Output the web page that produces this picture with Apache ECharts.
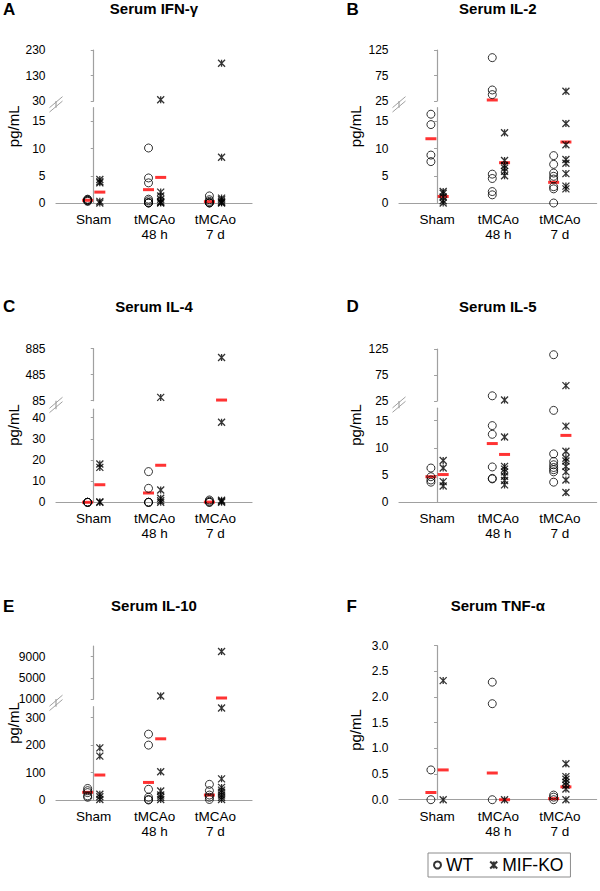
<!DOCTYPE html>
<html><head><meta charset="utf-8">
<script src="https://cdn.jsdelivr.net/npm/echarts@6/dist/echarts.min.js"></script>
<style>html,body{margin:0;padding:0;background:#fff}#c{width:600px;height:891px}</style>
</head><body><div id="c"></div>
<script>
// ---------- DATA ----------
const categories = ['Sham', 'tMCAo\n48 h', 'tMCAo\n7 d'];
const groupNames = ['WT', 'MIF-KO'];

// A: Serum IFN-γ
const ifnWT = [[0.7, 0.6, 0.5, 0.4, 0.3], [10.1, 4.6, 3.7, 0.7, 0.4, 0.1, 0, 0], [1.3, 0.6, 0.3, 0.1, 0, 0]];
const ifnKO = [[4.3, 3.9, 3.7, 0.3, 0], [35, 2.0, 1.3, 0.7, 0.3, 0.1, 0], [178, 8.4, 0.9, 0.6, 0.3, 0.1, 0]];
const ifnMeanWT = [0.5, 2.45, 0.25];
const ifnMeanKO = [2.0, 4.7, null];
const ifnTicksLow = [0, 5, 10, 15];
const ifnTicksHigh = [30, 130, 230];

// B: Serum IL-2
const il2WT = [[16.3, 14.4, 8.8, 7.6], [110, 46.6, 37.5, 5.3, 4.5, 2.1, 1.5], [8.7, 7.1, 5.5, 4.9, 4.4, 3.0, 2.6, 0]];
const il2KO = [[2.1, 1.8, 1.1, 0.4, 0], [12.9, 7.8, 6.9, 6.4, 5.8, 5.0], [44, 14.6, 10.7, 8.0, 7.3, 5.4, 3.1, 2.6]];
const il2MeanWT = [11.8, 27, 3.8];
const il2MeanKO = [1.2, 7.4, 11.2];
const il2TicksLow = [0, 5, 10, 15];
const il2TicksHigh = [25, 75, 125];

// C: Serum IL-4
const il4WT = [[0, 0, 0, 0], [14.5, 6.6, 0, 0, 0], [1.1, 0.5, 0, 0]];
const il4KO = [[18.1, 16.5, 0.2, 0], [136, 5.8, 1.9, 0.8, 0], [750, 37.8, 1.0, 0.5, 0]];
const il4MeanWT = [0, 4.4, 0.1];
const il4MeanKO = [8.3, 17.5, 95];
const il4TicksLow = [0, 10, 20, 30, 40];
const il4TicksHigh = [85, 485, 885];

// D: Serum IL-5
const il5WT = [[6.3, 4.7, 4.1, 3.7], [35, 14.1, 12.5, 6.5, 4.4, 4.3], [114, 16.9, 8.9, 7.5, 6.9, 6.4, 6.0, 5.6, 3.7]];
const il5KO = [[7.7, 6.3, 3.8, 3.0], [27, 12.0, 6.6, 6.1, 5.6, 4.8, 4.0, 3.2], [54.5, 14.0, 9.4, 8.1, 7.6, 6.6, 5.6, 4.1, 1.8]];
const il5MeanWT = [4.7, 10.8, null];
const il5MeanKO = [5.1, 8.8, 12.3];
const il5TicksLow = [0, 5, 10, 15];
const il5TicksHigh = [25, 75, 125];

// E: Serum IL-10
const il10WT = [[42, 34, 27, 15, 10], [240, 200, 39, 10, 2, 0], [57, 34, 18, 10, 2]];
const il10KO = [[190, 160, 21, 12, 2], [1580, 103, 33, 18, 10, 2], [9970, 335, 77, 46, 36, 28, 18, 10, 2]];
const il10MeanWT = [28, 64, 18];
const il10MeanKO = [91, 223, 1190];
const il10TicksLow = [0, 100, 200, 300];
const il10TicksHigh = [1000, 5000, 9000];

// F: Serum TNF-α
const tnfWT = [[0.58, 0], [2.29, 1.87, 0], [0.09, 0.05, 0]];
const tnfKO = [[2.32, 0], [0], [0.70, 0.45, 0.40, 0.34, 0.28, 0.21, 0]];
const tnfMeanWT = [0.14, 0.52, 0.02];
const tnfMeanKO = [0.58, 0, 0.25];
const tnfTicks = [0, 0.5, 1.0, 1.5, 2.0, 2.5, 3.0];

// ---------- LAYOUT ----------
const FONT = '"Liberation Sans", Arial, Helvetica, sans-serif';
const AXIS = '#a0a0a0';
const X_MIN = -0.62, X_MAX = 2.6, OFF = 0.1;
const cols = [{ left: 56, width: 196 }, { left: 399, width: 197.6 }];

const panels = [
  { letter: 'A', title: 'Serum IFN-γ', col: 0, wt: ifnWT, ko: ifnKO, mWT: ifnMeanWT, mKO: ifnMeanKO,
    low: { min: 0, max: 17.5, ticks: ifnTicksLow }, high: { min: 30, max: 230, ticks: ifnTicksHigh },
    highTop: 50, highBottom: 101, lowTop: 107.7, base: 203, titleY: 8.5, nameY: 126.3, dec: 0 },
  { letter: 'B', title: 'Serum IL-2', col: 1, wt: il2WT, ko: il2KO, mWT: il2MeanWT, mKO: il2MeanKO,
    low: { min: 0, max: 17.5, ticks: il2TicksLow }, high: { min: 25, max: 125, ticks: il2TicksHigh },
    highTop: 50, highBottom: 101, lowTop: 107.7, base: 203, titleY: 8.5, nameY: 126.3, dec: 0 },
  { letter: 'C', title: 'Serum IL-4', col: 0, wt: il4WT, ko: il4KO, mWT: il4MeanWT, mKO: il4MeanKO,
    low: { min: 0, max: 44, ticks: il4TicksLow }, high: { min: 85, max: 885, ticks: il4TicksHigh },
    highTop: 348.7, highBottom: 400.7, lowTop: 409.2, base: 502.3, titleY: 306, nameY: 425, dec: 0 },
  { letter: 'D', title: 'Serum IL-5', col: 1, wt: il5WT, ko: il5KO, mWT: il5MeanWT, mKO: il5MeanKO,
    low: { min: 0, max: 17.3, ticks: il5TicksLow }, high: { min: 25, max: 125, ticks: il5TicksHigh },
    highTop: 349, highBottom: 401, lowTop: 408.2, base: 502.3, titleY: 306, nameY: 425, dec: 0 },
  { letter: 'E', title: 'Serum IL-10', col: 0, wt: il10WT, ko: il10KO, mWT: il10MeanWT, mKO: il10MeanKO,
    low: { min: 0, max: 340, ticks: il10TicksLow }, high: { min: 1000, max: 11000, ticks: il10TicksHigh },
    highTop: 646, highBottom: 699, lowTop: 706.7, base: 800, titleY: 605.5, nameY: 723, dec: 0 },
  { letter: 'F', title: 'Serum TNF-α', col: 1, wt: tnfWT, ko: tnfKO, mWT: tnfMeanWT, mKO: tnfMeanKO,
    low: { min: 0, max: 3, ticks: tnfTicks }, high: null,
    lowTop: 645.7, base: 799.7, titleY: 605.5, nameY: 730, dec: 1 }
];

const KO_SYMBOL = 'path://M0,0L10,10M10,0L0,10M5,0L5,10';

const grids = [], xAxes = [], yAxes = [], series = [], graphics = [];

panels.forEach(p => {
  const col = cols[p.col];
  const segs = [{ kind: 'low', top: p.lowTop, bottom: p.base, scale: p.low }];
  if (p.high) segs.push({ kind: 'high', top: p.highTop, bottom: p.highBottom, scale: p.high });
  segs.forEach(s => {
    const gi = grids.length;
    grids.push({ left: col.left, width: col.width, top: s.top, height: s.bottom - s.top, containLabel: false });
    xAxes.push({
      gridIndex: gi, type: 'value', min: X_MIN, max: X_MAX, show: s.kind === 'low',
      axisLine: { show: true, lineStyle: { color: AXIS, width: 1.2 } },
      axisTick: { show: false }, splitLine: { show: false },
      axisLabel: { customValues: [0, 1, 2], formatter: v => categories[Math.round(v)],
        fontFamily: FONT, fontSize: 13.5, color: '#000', lineHeight: 15, margin: 9 }
    });
    yAxes.push({
      gridIndex: gi, type: 'value', min: s.scale.min, max: s.scale.max,
      axisLine: { show: true, lineStyle: { color: AXIS, width: 1.2 } },
      axisTick: { show: true, inside: false, length: 3, customValues: s.scale.ticks, lineStyle: { color: AXIS } },
      axisLabel: { customValues: s.scale.ticks, formatter: v => p.dec ? v.toFixed(p.dec) : String(v),
        fontFamily: FONT, fontSize: 12, color: '#000', margin: 10.5 },
      splitLine: { show: false }
    });
    const inSeg = v => s.kind === 'low' ? v <= p.low.max : v > p.low.max;
    const pts = (arr, off) => {
      const out = [];
      arr.forEach((vals, i) => vals.forEach(v => { if (v !== null && inSeg(v)) out.push([i + off, v]); }));
      return out;
    };
    const means = (arr, off) => {
      const out = [];
      arr.forEach((v, i) => { if (v !== null && inSeg(v)) out.push([i + off, v]); });
      return out;
    };
    series.push({ type: 'scatter', name: 'mean', xAxisIndex: gi, yAxisIndex: gi, z: 1, silent: true,
      symbol: 'rect', symbolSize: [11, 3], itemStyle: { color: '#ff0000' },
      data: means(p.mWT, -OFF).concat(means(p.mKO, OFF)) });
    series.push({ type: 'scatter', name: groupNames[0], xAxisIndex: gi, yAxisIndex: gi, z: 3, silent: true,
      symbol: 'circle', symbolSize: 8,
      itemStyle: { color: 'rgba(0,0,0,0)', borderColor: '#000', borderWidth: 1 },
      data: pts(p.wt, -OFF) });
    series.push({ type: 'scatter', name: groupNames[1], xAxisIndex: gi, yAxisIndex: gi, z: 3, silent: true,
      symbol: KO_SYMBOL, symbolSize: 7,
      itemStyle: { color: '#000', borderColor: '#000', borderWidth: 1.3 },
      data: pts(p.ko, OFF) });
  });

  // titles, panel letters, axis names
  graphics.push({ type: 'text', x: col.left + col.width / 2, y: p.titleY,
    style: { text: p.title, font: 'bold 15px ' + FONT, fill: '#000', align: 'center', verticalAlign: 'middle', textAlign: 'center', textVerticalAlign: 'middle' } });
  graphics.push({ type: 'text', x: p.col === 0 ? 3 : 346.5, y: p.titleY + 0.5,
    style: { text: p.letter, font: 'bold 17px ' + FONT, fill: '#000', align: 'left', verticalAlign: 'middle', textAlign: 'left', textVerticalAlign: 'middle' } });
  graphics.push({ type: 'text', x: p.col === 0 ? 13 : 355.5, y: p.nameY, rotation: Math.PI / 2,
    style: { text: 'pg/mL', font: '15px ' + FONT, fill: '#000', align: 'center', verticalAlign: 'middle', textAlign: 'center', textVerticalAlign: 'middle' } });

  // axis break marks
  if (p.high) {
    const ax = col.left;
    graphics.push({ type: 'line', shape: { x1: ax, y1: p.highBottom, x2: ax, y2: p.lowTop },
      style: { stroke: AXIS, lineWidth: 1.2 } });
    const yc = (p.highBottom + p.lowTop) / 2;
    [-2.2, 2.2].forEach(d => {
      graphics.push({ type: 'line', shape: { x1: ax - 6.5, y1: yc + d + 5.5, x2: ax + 6.5, y2: yc + d - 5.5 },
        style: { stroke: AXIS, lineWidth: 1 } });
    });
  }
});

const chart = echarts.init(document.getElementById('c'), null, { renderer: 'svg', width: 600, height: 891 });
chart.setOption({
  animation: false,
  backgroundColor: '#fff',
  grid: grids, xAxis: xAxes, yAxis: yAxes, series: series,
  graphic: { elements: graphics },
  legend: {
    data: groupNames, left: 428, top: 853, orient: 'horizontal',
    selectedMode: false, itemWidth: 7, itemHeight: 7, itemGap: 16,
    padding: [3, 7, 3, 5], borderColor: '#8c8c8c', borderWidth: 1, backgroundColor: '#fff',
    textStyle: { fontFamily: FONT, fontSize: 17.5, color: '#000' }
  }
});
</script></body></html>
